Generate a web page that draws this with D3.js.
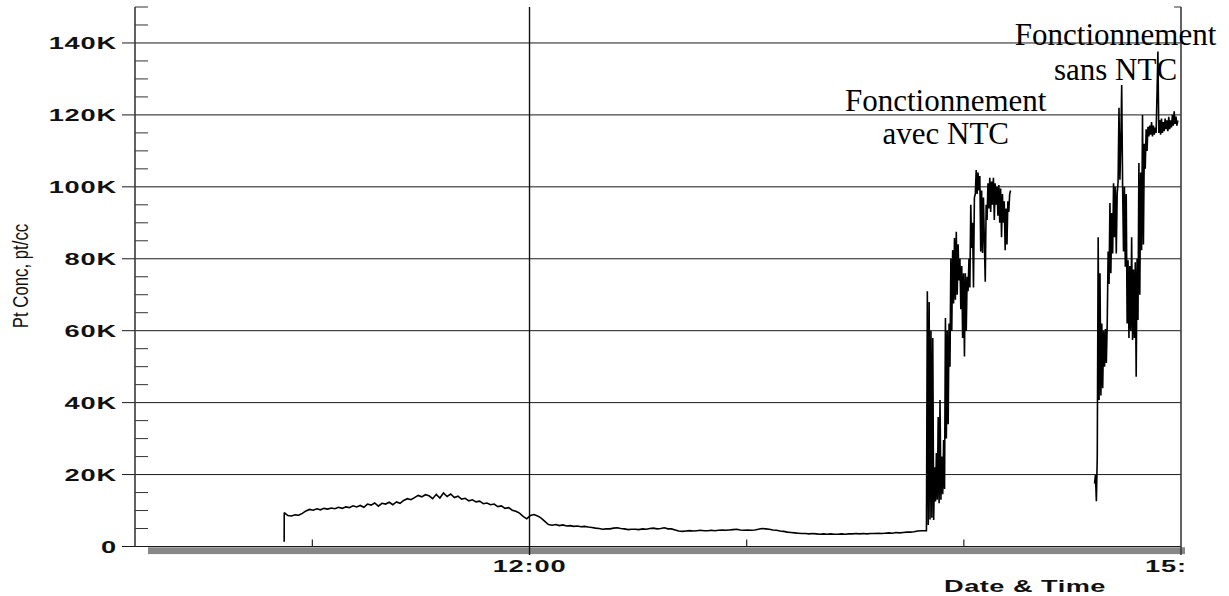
<!DOCTYPE html>
<html>
<head>
<meta charset="utf-8">
<script src="https://cdn.jsdelivr.net/npm/d3@7"></script>
<style>
  body { margin: 0; background: #fff; }
  svg { display: block; }
</style>
</head>
<body>
<svg id="chart" width="1229" height="596"></svg>
<script>
// Particle concentration (pt/cc, in thousands) logged over the afternoon.

const yTickValues = [0, 20, 40, 60, 80, 100, 120, 140];
const yTickLabels = ["0", "20K", "40K", "60K", "80K", "100K", "120K", "140K"];
const xMajorTimes = ["12:00:00", "15:00:00"];
const xMajorLabels = ["12:00", "15:"];
const xMinorTimes = ["11:00:00", "13:00:00", "14:00:00"];

// Instrument switch-on reading
const startupTime = "10:52:13";
const startupConc = [1.3];

// Idle period, one sample per minute
const idleStart = "10:52:14";
const idleStepSec = 60;
const idleConc = [
  9.4, 8.6, 8.5, 8.8, 8.7, 9.2, 9.9, 10.3, 10.1,
  10.5, 10.2, 10.6, 10.4, 10.7, 10.5, 10.9, 10.6, 11.0, 10.8,
  11.3, 11.0, 11.4, 10.9, 11.8, 11.5, 12.1, 11.2, 12.0, 11.8,
  12.3, 11.6, 12.4, 12.0, 12.8, 13.3, 13.0, 13.6, 14.2, 13.8,
  14.4, 14.1, 13.3, 14.5, 13.5, 14.9, 13.9, 14.6, 13.6, 14.0,
  13.2, 13.4, 12.7, 13.0, 12.4, 12.6, 11.9, 12.1, 11.6, 11.8,
  11.1, 11.3, 10.6, 10.8, 10.1, 9.8, 9.3, 8.4, 7.7, 8.6,
  8.9, 8.5, 7.9, 7.0, 6.1, 5.9, 6.1, 5.8, 6.0, 5.7,
  5.8, 5.6, 5.7, 5.5, 5.6, 5.4, 5.3, 5.1, 5.0, 4.8,
  4.9, 4.9, 5.1, 5.2, 5.0, 4.9, 4.7, 4.8, 4.8, 4.7,
  4.9, 4.8, 5.0, 5.1, 4.9, 5.0, 5.2, 4.9, 4.9, 4.6,
  4.3, 4.2, 4.3, 4.4, 4.3, 4.4, 4.5, 4.4, 4.4, 4.5,
  4.4, 4.5, 4.6, 4.5, 4.6, 4.7, 4.8, 4.6, 4.5, 4.6,
  4.5, 4.6, 4.8, 5.0, 4.9, 4.8, 4.6, 4.5, 4.3, 4.2,
  4.0, 3.9, 3.8, 3.7, 3.6, 3.6, 3.5, 3.6, 3.5, 3.4,
  3.5, 3.4, 3.5, 3.4, 3.4, 3.5, 3.4, 3.5, 3.5, 3.6,
  3.5, 3.6, 3.5, 3.6, 3.6, 3.7, 3.6, 3.7, 3.8, 3.7,
  3.9, 3.8, 3.9, 4.0, 4.0, 4.1, 4.3, 4.4
];

// Engine running with NTC, one sample every 15 s
const ntcStart = "13:49:40";
const ntcStepSec = 15;
const ntcConc = [
  4.4, 71.0, 6.0, 68.0, 7.5, 60.0, 8.0, 58.0, 7.4, 22.0,
  12.5, 26.0, 13.0, 36.0, 12.0, 40.7, 13.0, 25.0, 14.5, 29.6,
  16.0, 63.5, 30.0, 60.0, 34.0, 62.0, 50.0, 80.0, 60.0, 82.4,
  67.6, 85.8, 68.6, 87.5, 70.0, 84.0, 74.0, 80.0, 66.0, 78.0,
  58.0, 76.0, 52.8, 76.0, 60.0, 75.0, 71.0, 80.0, 72.0, 95.0,
  83.0, 90.0, 72.0, 97.0, 98.0, 104.7, 98.0, 104.0, 99.0, 103.0,
  82.0, 99.0, 81.6, 97.0, 85.0, 73.6, 95.0, 90.8, 101.0, 94.0,
  102.5, 93.0, 101.5, 95.0, 102.5, 90.8, 101.0, 95.0, 100.0, 92.0,
  100.5, 90.0, 99.5, 86.0, 98.0, 90.0, 96.0, 82.4, 94.0, 84.0,
  96.0, 93.0, 98.0, 99.0
];

// Engine running without NTC, one sample every 15 s
const noNtcStart = "14:36:07";
const noNtcStepSec = 15;
const noNtcConc = [
  17.5, 19.9, 12.6, 25.0, 86.0, 40.7, 76.0, 42.0, 62.0, 44.0,
  60.0, 50.0, 60.5, 51.0, 62.0, 82.0, 73.0, 95.5, 76.0, 92.7,
  81.5, 101.0, 86.0, 100.0, 81.5, 98.0, 101.4, 122.0, 102.0, 112.0,
  128.3, 100.0, 82.0, 100.0, 77.8, 98.0, 62.0, 79.6, 58.0, 78.0,
  60.0, 86.0, 57.4, 77.0, 58.0, 79.0, 47.2, 80.0, 63.0, 106.6,
  70.0, 104.0, 82.4, 120.0, 84.0, 112.0, 105.0, 116.0, 110.0, 116.7,
  114.0, 117.0, 114.5, 118.0, 114.0, 117.0, 114.5, 116.5, 115.0, 125.5,
  137.6, 115.0, 118.6, 114.5, 119.0, 115.0, 118.0, 115.5, 119.0, 116.0,
  118.5, 115.5, 119.5, 116.0, 118.5, 116.5, 120.0, 117.0, 121.0, 117.5,
  119.5, 117.0, 118.5
];

const noteWithNtc = ["Fonctionnement", "avec NTC"];
const noteWithoutNtc = ["Fonctionnement", "sans NTC"];

const parseTime = d3.timeParse("%H:%M:%S");

function series(start, stepSec, values) {
  const t0 = parseTime(start);
  return values.map((v, i) => ({ t: new Date(t0.getTime() + i * stepSec * 1000), v }));
}

const svg = d3.select("#chart");

const x = d3.scaleTime()
  .domain([parseTime("10:11:00"), parseTime("15:00:00")])
  .range([135, 1181]);
const y = d3.scaleLinear().domain([0, 150]).range([546.5, 7]);

const xEnd = x(parseTime("15:00:00"));
const axisFont = "'Liberation Sans', Arial, sans-serif";

// Horizontal grid / major ticks
svg.append("g").selectAll("line").data(yTickValues).join("line")
  .attr("x1", 122).attr("x2", xEnd)
  .attr("y1", d => y(d)).attr("y2", d => y(d))
  .attr("stroke", "#1a1a1a").attr("stroke-width", 1);

// Minor y ticks every 5K
const minorY = d3.range(5, 151, 5).filter(v => v % 20 !== 0);
svg.append("g").selectAll("line").data(minorY).join("line")
  .attr("x1", 135).attr("x2", 148)
  .attr("y1", d => y(d)).attr("y2", d => y(d))
  .attr("stroke", "#333").attr("stroke-width", 1);

// Gray band under the time axis
svg.append("rect")
  .attr("x", 148).attr("y", y(0) + 0.8)
  .attr("width", xEnd + 4 - 148).attr("height", 6.8)
  .attr("fill", "#878787");

// Left axis line
svg.append("line")
  .attr("x1", 135).attr("x2", 135).attr("y1", y(150)).attr("y2", y(0))
  .attr("stroke", "#3a3a3a").attr("stroke-width", 1.6);

// Vertical grid at labelled hours
svg.append("g").selectAll("line").data(xMajorTimes).join("line")
  .attr("x1", d => x(parseTime(d))).attr("x2", d => x(parseTime(d)))
  .attr("y1", y(150)).attr("y2", y(0) + 8.5)
  .attr("stroke", (d, i) => i === 0 ? "#111" : "#3a3a3a")
  .attr("stroke-width", (d, i) => i === 0 ? 1.4 : 1.6);

// Small cap at the top of the right edge
svg.append("line")
  .attr("x1", xEnd - 7).attr("x2", xEnd).attr("y1", y(150)).attr("y2", y(150))
  .attr("stroke", "#333").attr("stroke-width", 1);

// Minor hour ticks
svg.append("g").selectAll("line").data(xMinorTimes).join("line")
  .attr("x1", d => x(parseTime(d))).attr("x2", d => x(parseTime(d)))
  .attr("y1", y(0) - 7).attr("y2", y(0))
  .attr("stroke", "#222").attr("stroke-width", 1.2);

// Concentration trace
const line = d3.line().x(d => x(d.t)).y(d => y(d.v));
const runWithNtc = series(startupTime, 1, startupConc)
  .concat(series(idleStart, idleStepSec, idleConc))
  .concat(series(ntcStart, ntcStepSec, ntcConc));
const runWithoutNtc = series(noNtcStart, noNtcStepSec, noNtcConc);

svg.append("g").selectAll("path").data([runWithNtc, runWithoutNtc]).join("path")
  .attr("d", line)
  .attr("fill", "none")
  .attr("stroke", "#000")
  .attr("stroke-width", 1.6)
  .attr("stroke-linejoin", "miter")
  .attr("stroke-miterlimit", 2);

// Y tick labels (wide bold face)
svg.append("g").selectAll("g").data(yTickValues).join("g")
  .attr("transform", d => `translate(117,${y(d) + 6.3}) scale(1.65,1)`)
  .append("text")
  .attr("text-anchor", "end")
  .attr("font-family", axisFont).attr("font-weight", "bold")
  .attr("font-size", 16.5).attr("letter-spacing", 0.5)
  .attr("fill", "#111")
  .text((d, i) => yTickLabels[i]);

// Time labels
svg.append("g").selectAll("g").data(xMajorTimes).join("g")
  .attr("transform", (d, i) => i === 0
    ? `translate(${x(parseTime(d))},571.5) scale(1.65,1)`
    : `translate(${x(parseTime(d)) - 36},571.5) scale(1.65,1)`)
  .append("text")
  .attr("text-anchor", (d, i) => i === 0 ? "middle" : "start")
  .attr("font-family", axisFont).attr("font-weight", "bold")
  .attr("font-size", 16.5).attr("letter-spacing", 0.5)
  .attr("fill", "#111")
  .text((d, i) => xMajorLabels[i]);

// Axis titles
svg.append("g")
  .attr("transform", "translate(1025,591.5) scale(1.6,1)")
  .append("text")
  .attr("text-anchor", "middle")
  .attr("font-family", axisFont).attr("font-weight", "bold")
  .attr("font-size", 17).attr("letter-spacing", 0.3)
  .attr("fill", "#111")
  .text("Date & Time");

svg.append("g")
  .attr("transform", "translate(28,276) rotate(-90) scale(0.78,1)")
  .append("text")
  .attr("text-anchor", "middle")
  .attr("font-family", axisFont)
  .attr("font-size", 21.5)
  .attr("fill", "#111")
  .text("Pt Conc, pt/cc");

// Annotations
function note(lines, time, value, gap) {
  const t = svg.append("text")
    .attr("x", x(parseTime(time))).attr("y", y(value))
    .attr("text-anchor", "middle")
    .attr("font-family", "'Liberation Serif', 'Times New Roman', serif")
    .attr("font-size", 31)
    .attr("fill", "#000");
  lines.forEach((s, i) => {
    t.append("tspan")
      .attr("x", x(parseTime(time)))
      .attr("dy", i === 0 ? 0 : gap)
      .text(s);
  });
}
note(noteWithNtc, "13:55:00", 121.1, 33);
note(noteWithoutNtc, "14:41:55", 139.4, 35);
</script>
</body>
</html>
